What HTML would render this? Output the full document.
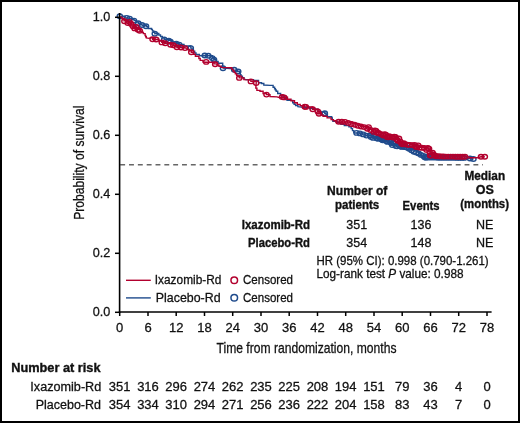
<!DOCTYPE html>
<html><head><meta charset="utf-8"><style>
html,body{margin:0;padding:0;background:#fff;}
body{width:520px;height:423px;overflow:hidden;}
svg{display:block;will-change:transform;}
text{stroke:#111;stroke-width:0.28px;}
text[font-weight=bold],g[font-weight=bold] text{stroke-width:0.35px;}
</style></head><body>
<svg width="520" height="423" viewBox="0 0 520 423" font-family='"Liberation Sans", sans-serif'>
<rect x="0" y="0" width="520" height="423" fill="#fff"/>
<line x1="120.2" y1="164.8" x2="483" y2="164.8" stroke="#666" stroke-width="1.5" stroke-dasharray="4.9 3.93"/>
<g fill="none" stroke="#1F4B8C" stroke-width="1.4" stroke-linejoin="miter"><polyline points="119.7,17.3 122.8,16.2 125.1,16.2 125.1,18.1 127.3,18.0 129.5,18.4 131.9,18.4 131.9,19.3 134.1,19.3 134.1,20.6 136.3,20.6 136.3,22.0 138.3,22.0 138.3,23.3 140.1,23.3 140.1,24.2 142.0,24.2 142.0,25.2 144.4,25.7 146.5,25.7 146.5,26.6 148.2,26.6 148.2,28.5 151.5,28.5 151.5,29.4 152.4,29.4 152.4,30.9 153.6,30.9 153.6,32.3 154.8,32.3 154.8,33.7 157.2,33.5 158.8,33.5 158.8,35.0 160.5,35.0 160.5,36.5 162.3,36.5 162.3,37.9 164.2,37.9 164.2,39.3 168.8,39.3 168.8,40.4 172.0,40.4 172.0,42.0 176.3,42.0 176.3,43.6 179.2,43.6 179.2,44.4 184.0,44.4 184.0,46.0 190.8,46.0 190.8,48.1 192.1,48.1 192.1,49.7 193.4,49.7 193.4,51.3 194.7,51.3 194.7,52.9 196.0,52.9 196.0,54.5 199.4,54.5 199.4,55.6 201.2,55.8 204.8,55.5 208.3,55.8 212.3,55.8 212.3,58.1 214.0,58.1 214.0,59.8 216.1,59.8 216.1,61.5 218.1,61.5 218.1,63.3 222.7,63.3 222.7,65.6 223.2,68.2 230.0,68.5 233.0,68.5 233.0,70.1 237.6,70.1 237.6,71.5 239.6,71.5 239.6,73.5 240.3,73.5 240.3,74.8 241.0,74.8 241.0,76.2 242.4,76.2 242.4,77.6 243.9,77.6 243.9,79.0 245.8,79.6 253.5,79.6 253.5,80.4 258.5,80.4 258.5,82.7 261.5,82.7 261.5,83.5 263.8,83.5 263.8,85.0 270.0,85.4 273.1,85.4 273.1,87.3 274.6,87.3 274.6,88.8 275.4,88.8 275.4,90.0 276.2,90.0 276.2,91.2 277.7,91.2 277.7,93.5 280.6,93.5 280.6,95.2 283.1,95.2 283.1,96.9 285.1,96.9 285.1,98.7 287.0,98.7 287.0,100.4 292.7,100.4 292.7,102.7 294.1,102.7 294.1,104.2 295.6,104.2 295.6,105.6 297.9,105.6 297.9,106.7 301.4,107.0 305.0,107.3 309.6,107.3 309.6,108.5 314.2,108.5 314.2,109.2 318.1,109.2 318.1,111.5 321.2,111.5 321.2,113.5 323.5,112.0 324.8,112.0 324.8,113.3 326.1,113.3 326.1,114.8 327.4,114.8 327.4,116.4 328.8,116.7 331.7,116.7 331.7,117.9 332.3,117.9 332.3,119.6 332.9,119.6 332.9,121.3 337.4,121.3 337.4,122.8 340.9,122.8 340.9,124.2 344.3,124.2 344.3,125.5 348.9,125.5 348.9,126.7 351.2,126.7 351.2,128.6 352.5,128.6 352.5,130.6 353.8,130.6 353.8,132.6 355.0,133.0 361.0,133.0 361.0,134.0 365.0,134.0 365.0,135.6 373.0,135.6 373.0,137.5 377.0,137.5 377.0,138.8 381.0,138.8 381.0,140.0 386.0,140.0 386.0,141.5 388.5,141.5 388.5,143.0 391.0,143.0 391.0,144.5 400.0,144.5 400.0,146.5 407.0,146.5 407.0,148.0 410.0,148.0 410.0,149.5 416.0,149.5 416.0,151.5 418.0,151.5 418.0,152.5 419.5,152.5 419.5,154.0 421.0,154.0 421.0,155.5 422.0,155.5 422.0,156.9 423.0,156.9 423.0,158.3 466.0,158.6 470.0,158.5 473.4,159.0"/></g>
<g fill="none" stroke="#1F4B8C" stroke-width="1.4"><ellipse cx="356.6" cy="132.9" rx="2.65" ry="2.25"/>
<ellipse cx="359.9" cy="133.4" rx="2.65" ry="2.25"/>
<ellipse cx="363.2" cy="134.4" rx="2.65" ry="2.25"/>
<ellipse cx="366.5" cy="135.6" rx="2.65" ry="2.25"/>
<ellipse cx="369.8" cy="135.5" rx="2.65" ry="2.25"/>
<ellipse cx="371.0" cy="137.0" rx="2.65" ry="2.25"/>
<ellipse cx="374.3" cy="135.5" rx="2.65" ry="2.25"/>
<ellipse cx="373.1" cy="137.9" rx="2.65" ry="2.25"/>
<ellipse cx="375.5" cy="136.4" rx="2.65" ry="2.25"/>
<ellipse cx="376.7" cy="138.3" rx="2.65" ry="2.25"/>
<ellipse cx="379.1" cy="137.2" rx="2.65" ry="2.25"/>
<ellipse cx="377.9" cy="138.7" rx="2.65" ry="2.25"/>
<ellipse cx="380.3" cy="138.0" rx="2.65" ry="2.25"/>
<ellipse cx="381.5" cy="139.5" rx="2.65" ry="2.25"/>
<ellipse cx="383.9" cy="138.8" rx="2.65" ry="2.25"/>
<ellipse cx="382.7" cy="140.3" rx="2.65" ry="2.25"/>
<ellipse cx="385.1" cy="139.5" rx="2.65" ry="2.25"/>
<ellipse cx="386.3" cy="141.1" rx="2.65" ry="2.25"/>
<ellipse cx="388.7" cy="140.2" rx="2.65" ry="2.25"/>
<ellipse cx="387.5" cy="141.9" rx="2.65" ry="2.25"/>
<ellipse cx="389.9" cy="141.4" rx="2.65" ry="2.25"/>
<ellipse cx="391.1" cy="143.1" rx="2.65" ry="2.25"/>
<ellipse cx="393.5" cy="142.9" rx="2.65" ry="2.25"/>
<ellipse cx="392.3" cy="145.1" rx="2.65" ry="2.25"/>
<ellipse cx="394.7" cy="143.7" rx="2.65" ry="2.25"/>
<ellipse cx="395.9" cy="146.1" rx="2.65" ry="2.25"/>
<ellipse cx="398.3" cy="144.4" rx="2.65" ry="2.25"/>
<ellipse cx="397.1" cy="146.3" rx="2.65" ry="2.25"/>
<ellipse cx="399.5" cy="145.1" rx="2.65" ry="2.25"/>
<ellipse cx="400.7" cy="146.6" rx="2.65" ry="2.25"/>
<ellipse cx="403.1" cy="145.9" rx="2.65" ry="2.25"/>
<ellipse cx="401.9" cy="146.9" rx="2.65" ry="2.25"/>
<ellipse cx="404.3" cy="147.0" rx="2.65" ry="2.25"/>
<ellipse cx="406.7" cy="147.5" rx="2.65" ry="2.25"/>
<ellipse cx="409.1" cy="148.8" rx="2.65" ry="2.25"/>
<ellipse cx="411.5" cy="150.3" rx="2.65" ry="2.25"/>
<ellipse cx="413.9" cy="151.8" rx="2.65" ry="2.25"/>
<ellipse cx="416.3" cy="152.5" rx="2.65" ry="2.25"/>
<ellipse cx="418.7" cy="153.5" rx="2.65" ry="2.25"/>
<ellipse cx="421.1" cy="154.9" rx="2.65" ry="2.25"/>
<ellipse cx="423.5" cy="155.9" rx="2.65" ry="2.25"/>
<ellipse cx="424.7" cy="157.2" rx="2.65" ry="2.25"/>
<ellipse cx="427.1" cy="156.7" rx="2.65" ry="2.25"/>
<ellipse cx="425.9" cy="157.7" rx="2.65" ry="2.25"/>
<ellipse cx="428.3" cy="157.5" rx="2.65" ry="2.25"/>
<ellipse cx="430.7" cy="157.6" rx="2.65" ry="2.25"/>
<ellipse cx="433.1" cy="157.6" rx="2.65" ry="2.25"/>
<ellipse cx="435.5" cy="157.6" rx="2.65" ry="2.25"/>
<ellipse cx="437.9" cy="157.7" rx="2.65" ry="2.25"/>
<ellipse cx="440.3" cy="157.7" rx="2.65" ry="2.25"/>
<ellipse cx="442.7" cy="157.7" rx="2.65" ry="2.25"/>
<ellipse cx="445.1" cy="157.8" rx="2.65" ry="2.25"/>
<ellipse cx="447.5" cy="157.8" rx="2.65" ry="2.25"/>
<ellipse cx="449.9" cy="157.8" rx="2.65" ry="2.25"/>
<ellipse cx="452.3" cy="157.8" rx="2.65" ry="2.25"/>
<ellipse cx="454.7" cy="157.8" rx="2.65" ry="2.25"/>
<ellipse cx="457.1" cy="157.9" rx="2.65" ry="2.25"/>
<ellipse cx="459.5" cy="157.9" rx="2.65" ry="2.25"/>
<ellipse cx="461.9" cy="157.9" rx="2.65" ry="2.25"/>
<ellipse cx="464.3" cy="157.9" rx="2.65" ry="2.25"/></g>
<g fill="none" stroke="#1F4B8C" stroke-width="1.4"><ellipse cx="119.8" cy="16.2" rx="2.65" ry="2.25"/>
<ellipse cx="126.8" cy="17.9" rx="2.65" ry="2.25"/>
<ellipse cx="129.6" cy="18.6" rx="2.65" ry="2.25"/>
<ellipse cx="134.0" cy="20.6" rx="2.65" ry="2.25"/>
<ellipse cx="138.3" cy="23.2" rx="2.65" ry="2.25"/>
<ellipse cx="142.0" cy="25.0" rx="2.65" ry="2.25"/>
<ellipse cx="146.0" cy="26.2" rx="2.65" ry="2.25"/>
<ellipse cx="154.8" cy="33.7" rx="2.65" ry="2.25"/>
<ellipse cx="164.2" cy="39.5" rx="2.65" ry="2.25"/>
<ellipse cx="168.8" cy="40.6" rx="2.65" ry="2.25"/>
<ellipse cx="170.5" cy="41.8" rx="2.65" ry="2.25"/>
<ellipse cx="176.3" cy="43.8" rx="2.65" ry="2.25"/>
<ellipse cx="179.2" cy="44.6" rx="2.65" ry="2.25"/>
<ellipse cx="190.8" cy="48.1" rx="2.65" ry="2.25"/>
<ellipse cx="204.8" cy="55.5" rx="2.65" ry="2.25"/>
<ellipse cx="208.3" cy="55.8" rx="2.65" ry="2.25"/>
<ellipse cx="212.3" cy="58.1" rx="2.65" ry="2.25"/>
<ellipse cx="214.0" cy="59.8" rx="2.65" ry="2.25"/>
<ellipse cx="223.0" cy="68.3" rx="2.65" ry="2.25"/>
<ellipse cx="234.2" cy="69.7" rx="2.65" ry="2.25"/>
<ellipse cx="238.2" cy="71.5" rx="2.65" ry="2.25"/>
<ellipse cx="324.8" cy="113.3" rx="2.65" ry="2.25"/>
<ellipse cx="470.0" cy="158.5" rx="2.65" ry="2.25"/>
<ellipse cx="473.4" cy="159.0" rx="2.65" ry="2.25"/></g>
<g fill="none" stroke="#B2002E" stroke-width="1.4" stroke-linejoin="miter"><polyline points="119.7,17.3 122.0,17.3 122.0,18.5 124.0,18.5 124.0,20.8 126.1,20.8 126.1,21.6 128.4,21.6 128.4,22.9 131.3,22.9 131.3,25.1 134.1,25.1 134.1,27.4 137.0,27.4 137.0,29.5 140.1,29.5 140.1,31.3 142.5,31.3 142.5,32.5 143.4,32.5 143.4,33.6 145.1,33.6 145.1,35.5 145.7,35.5 145.7,36.8 146.3,36.8 146.3,38.0 149.1,38.4 151.5,37.5 150.0,37.8 152.6,37.8 152.6,39.3 156.1,39.5 158.9,39.5 158.9,41.0 161.8,41.0 161.8,42.4 165.3,42.4 165.3,43.3 170.5,43.3 170.5,44.7 173.4,45.3 176.9,45.3 176.9,47.3 181.0,47.5 185.0,47.5 185.0,48.1 187.1,48.1 187.1,49.5 189.2,49.5 189.2,50.8 191.3,50.8 191.3,52.2 193.4,52.2 193.4,54.2 195.4,54.2 195.4,56.2 198.9,56.2 198.9,58.5 200.2,58.5 200.2,60.4 203.0,60.4 203.0,62.0 206.0,62.2 207.1,62.2 214.0,62.2 214.0,63.9 216.9,63.9 216.9,65.0 218.9,65.0 218.9,66.2 221.0,66.2 221.0,67.4 230.7,67.8 231.8,67.8 231.8,69.4 233.0,69.4 233.0,71.0 234.2,71.0 234.2,72.4 235.3,72.4 235.3,73.8 236.6,73.8 236.6,75.2 238.0,75.2 238.0,76.5 239.3,76.5 239.3,77.9 243.9,77.9 243.9,79.6 248.5,79.9 250.9,79.9 250.9,81.4 256.2,81.4 256.2,83.1 255.8,88.1 256.9,88.1 256.9,90.4 260.0,90.4 260.0,91.2 263.1,91.2 263.1,93.5 266.5,93.5 266.5,94.6 270.0,94.6 270.0,96.5 276.9,96.9 279.2,97.5 282.9,97.2 287.5,97.2 287.5,99.2 291.0,99.2 291.0,100.7 294.5,100.7 294.5,102.7 297.3,102.7 297.3,104.4 300.2,104.4 300.2,105.6 304.3,105.6 304.3,106.7 305.7,106.9 312.7,106.9 312.7,109.2 317.8,109.2 317.8,111.5 319.0,111.5 319.0,113.8 321.0,113.8 321.0,115.0 323.0,115.0 323.0,116.2 327.1,116.2 327.1,117.9 331.1,117.9 331.1,119.6 333.4,119.6 333.4,120.8 336.0,120.8 336.0,122.0 345.0,122.0 352.0,122.0 352.0,123.6 358.0,123.6 358.0,125.4 362.0,125.4 362.0,126.3 366.0,126.3 366.0,127.8 370.0,127.8 370.0,129.4 375.0,129.4 375.0,131.2 378.0,131.2 378.0,132.4 381.0,132.4 381.0,133.6 385.0,133.6 385.0,135.0 390.0,135.0 390.0,136.2 395.0,136.2 395.0,137.5 396.5,137.5 396.5,139.0 398.0,139.0 398.0,140.5 400.0,140.5 400.0,142.3 405.0,142.3 405.0,143.6 410.0,143.6 410.0,144.8 417.0,144.8 417.0,145.8 419.0,145.8 419.0,147.2 425.0,147.2 425.0,148.0 429.0,148.0 429.0,150.0 430.0,150.0 430.0,151.5 431.0,151.5 431.0,153.0 433.0,153.0 433.0,154.8 435.0,154.8 435.0,156.7 466.0,156.9 469.0,156.9 469.0,157.7 477.6,157.7 481.0,156.8 484.8,156.8"/></g>
<g fill="none" stroke="#B2002E" stroke-width="1.4"><ellipse cx="338.6" cy="121.8" rx="2.65" ry="2.25"/>
<ellipse cx="341.8" cy="121.7" rx="2.65" ry="2.25"/>
<ellipse cx="345.0" cy="121.9" rx="2.65" ry="2.25"/>
<ellipse cx="348.2" cy="122.9" rx="2.65" ry="2.25"/>
<ellipse cx="351.4" cy="124.0" rx="2.65" ry="2.25"/>
<ellipse cx="354.6" cy="124.8" rx="2.65" ry="2.25"/>
<ellipse cx="357.8" cy="125.7" rx="2.65" ry="2.25"/>
<ellipse cx="361.0" cy="126.5" rx="2.65" ry="2.25"/>
<ellipse cx="364.2" cy="127.1" rx="2.65" ry="2.25"/>
<ellipse cx="368.6" cy="127.1" rx="2.65" ry="2.25"/>
<ellipse cx="367.4" cy="128.7" rx="2.65" ry="2.25"/>
<ellipse cx="370.6" cy="130.0" rx="2.65" ry="2.25"/>
<ellipse cx="375.0" cy="130.5" rx="2.65" ry="2.25"/>
<ellipse cx="373.8" cy="131.9" rx="2.65" ry="2.25"/>
<ellipse cx="376.2" cy="131.0" rx="2.65" ry="2.25"/>
<ellipse cx="377.4" cy="132.9" rx="2.65" ry="2.25"/>
<ellipse cx="378.6" cy="133.0" rx="2.65" ry="2.25"/>
<ellipse cx="381.0" cy="134.2" rx="2.65" ry="2.25"/>
<ellipse cx="384.6" cy="134.3" rx="2.65" ry="2.25"/>
<ellipse cx="383.4" cy="135.5" rx="2.65" ry="2.25"/>
<ellipse cx="385.8" cy="134.7" rx="2.65" ry="2.25"/>
<ellipse cx="387.0" cy="137.0" rx="2.65" ry="2.25"/>
<ellipse cx="389.4" cy="136.3" rx="2.65" ry="2.25"/>
<ellipse cx="388.2" cy="137.2" rx="2.65" ry="2.25"/>
<ellipse cx="390.6" cy="137.0" rx="2.65" ry="2.25"/>
<ellipse cx="394.2" cy="136.7" rx="2.65" ry="2.25"/>
<ellipse cx="393.0" cy="137.6" rx="2.65" ry="2.25"/>
<ellipse cx="395.4" cy="136.9" rx="2.65" ry="2.25"/>
<ellipse cx="396.6" cy="139.2" rx="2.65" ry="2.25"/>
<ellipse cx="399.0" cy="138.5" rx="2.65" ry="2.25"/>
<ellipse cx="397.8" cy="140.7" rx="2.65" ry="2.25"/>
<ellipse cx="400.2" cy="141.5" rx="2.65" ry="2.25"/>
<ellipse cx="401.4" cy="143.6" rx="2.65" ry="2.25"/>
<ellipse cx="403.8" cy="143.3" rx="2.65" ry="2.25"/>
<ellipse cx="402.6" cy="144.3" rx="2.65" ry="2.25"/>
<ellipse cx="405.0" cy="144.3" rx="2.65" ry="2.25"/>
<ellipse cx="407.4" cy="144.8" rx="2.65" ry="2.25"/>
<ellipse cx="409.8" cy="144.9" rx="2.65" ry="2.25"/>
<ellipse cx="412.2" cy="145.1" rx="2.65" ry="2.25"/>
<ellipse cx="414.6" cy="145.0" rx="2.65" ry="2.25"/>
<ellipse cx="415.8" cy="146.7" rx="2.65" ry="2.25"/>
<ellipse cx="418.2" cy="145.4" rx="2.65" ry="2.25"/>
<ellipse cx="417.0" cy="147.0" rx="2.65" ry="2.25"/>
<ellipse cx="419.4" cy="147.6" rx="2.65" ry="2.25"/>
<ellipse cx="421.8" cy="147.8" rx="2.65" ry="2.25"/>
<ellipse cx="424.2" cy="148.0" rx="2.65" ry="2.25"/>
<ellipse cx="427.8" cy="148.0" rx="2.65" ry="2.25"/>
<ellipse cx="426.6" cy="149.9" rx="2.65" ry="2.25"/>
<ellipse cx="429.0" cy="148.6" rx="2.65" ry="2.25"/>
<ellipse cx="430.2" cy="155.5" rx="2.65" ry="2.25"/>
<ellipse cx="429.6" cy="152.1" rx="2.65" ry="2.25"/>
<ellipse cx="432.6" cy="152.7" rx="2.65" ry="2.25"/>
<ellipse cx="431.4" cy="155.6" rx="2.65" ry="2.25"/>
<ellipse cx="433.8" cy="154.6" rx="2.65" ry="2.25"/>
<ellipse cx="435.0" cy="155.7" rx="2.65" ry="2.25"/>
<ellipse cx="436.2" cy="156.2" rx="2.65" ry="2.25"/>
<ellipse cx="438.6" cy="156.3" rx="2.65" ry="2.25"/>
<ellipse cx="441.0" cy="156.4" rx="2.65" ry="2.25"/>
<ellipse cx="443.4" cy="156.5" rx="2.65" ry="2.25"/>
<ellipse cx="445.8" cy="156.6" rx="2.65" ry="2.25"/>
<ellipse cx="448.2" cy="156.6" rx="2.65" ry="2.25"/>
<ellipse cx="450.6" cy="156.6" rx="2.65" ry="2.25"/>
<ellipse cx="453.0" cy="156.6" rx="2.65" ry="2.25"/>
<ellipse cx="455.4" cy="156.7" rx="2.65" ry="2.25"/>
<ellipse cx="457.8" cy="156.7" rx="2.65" ry="2.25"/>
<ellipse cx="460.2" cy="156.7" rx="2.65" ry="2.25"/>
<ellipse cx="462.6" cy="156.7" rx="2.65" ry="2.25"/>
<ellipse cx="465.0" cy="156.7" rx="2.65" ry="2.25"/></g>
<g fill="none" stroke="#B2002E" stroke-width="1.4"><ellipse cx="124.4" cy="21.2" rx="2.65" ry="2.25"/>
<ellipse cx="129.5" cy="21.9" rx="2.65" ry="2.25"/>
<ellipse cx="127.8" cy="23.1" rx="2.65" ry="2.25"/>
<ellipse cx="131.2" cy="23.9" rx="2.65" ry="2.25"/>
<ellipse cx="132.9" cy="26.2" rx="2.65" ry="2.25"/>
<ellipse cx="136.3" cy="26.9" rx="2.65" ry="2.25"/>
<ellipse cx="134.6" cy="28.4" rx="2.65" ry="2.25"/>
<ellipse cx="138.0" cy="29.7" rx="2.65" ry="2.25"/>
<ellipse cx="139.7" cy="30.7" rx="2.65" ry="2.25"/>
<ellipse cx="152.6" cy="39.3" rx="2.65" ry="2.25"/>
<ellipse cx="156.1" cy="39.5" rx="2.65" ry="2.25"/>
<ellipse cx="161.8" cy="42.4" rx="2.65" ry="2.25"/>
<ellipse cx="165.3" cy="43.3" rx="2.65" ry="2.25"/>
<ellipse cx="170.5" cy="44.7" rx="2.65" ry="2.25"/>
<ellipse cx="173.4" cy="45.3" rx="2.65" ry="2.25"/>
<ellipse cx="176.9" cy="47.3" rx="2.65" ry="2.25"/>
<ellipse cx="181.0" cy="47.5" rx="2.65" ry="2.25"/>
<ellipse cx="185.0" cy="48.1" rx="2.65" ry="2.25"/>
<ellipse cx="191.3" cy="52.2" rx="2.65" ry="2.25"/>
<ellipse cx="206.2" cy="61.9" rx="2.65" ry="2.25"/>
<ellipse cx="215.2" cy="64.2" rx="2.65" ry="2.25"/>
<ellipse cx="239.3" cy="77.9" rx="2.65" ry="2.25"/>
<ellipse cx="250.9" cy="81.4" rx="2.65" ry="2.25"/>
<ellipse cx="256.2" cy="83.1" rx="2.65" ry="2.25"/>
<ellipse cx="266.5" cy="94.6" rx="2.65" ry="2.25"/>
<ellipse cx="282.2" cy="97.0" rx="2.65" ry="2.25"/>
<ellipse cx="284.2" cy="97.4" rx="2.65" ry="2.25"/>
<ellipse cx="304.8" cy="106.8" rx="2.65" ry="2.25"/>
<ellipse cx="305.9" cy="106.9" rx="2.65" ry="2.25"/>
<ellipse cx="312.7" cy="109.2" rx="2.65" ry="2.25"/>
<ellipse cx="317.8" cy="111.5" rx="2.65" ry="2.25"/>
<ellipse cx="319.0" cy="113.8" rx="2.65" ry="2.25"/>
<ellipse cx="481.0" cy="156.8" rx="2.65" ry="2.25"/>
<ellipse cx="484.8" cy="156.8" rx="2.65" ry="2.25"/></g>
<g stroke="#000" fill="none">
<line x1="119.6" y1="13" x2="119.6" y2="313" stroke-width="1.6"/>
<line x1="118.8" y1="312" x2="491.6" y2="312" stroke-width="1.7"/>
<line x1="115" y1="312.3" x2="119.6" y2="312.3" stroke-width="1.5"/>
<line x1="115" y1="253.3" x2="119.6" y2="253.3" stroke-width="1.5"/>
<line x1="115" y1="194.3" x2="119.6" y2="194.3" stroke-width="1.5"/>
<line x1="115" y1="135.3" x2="119.6" y2="135.3" stroke-width="1.5"/>
<line x1="115" y1="76.3" x2="119.6" y2="76.3" stroke-width="1.5"/>
<line x1="115" y1="17.3" x2="119.6" y2="17.3" stroke-width="1.5"/>
<line x1="119.7" y1="312" x2="119.7" y2="316" stroke-width="1.5"/>
<line x1="148.0" y1="312" x2="148.0" y2="316" stroke-width="1.5"/>
<line x1="176.2" y1="312" x2="176.2" y2="316" stroke-width="1.5"/>
<line x1="204.5" y1="312" x2="204.5" y2="316" stroke-width="1.5"/>
<line x1="232.7" y1="312" x2="232.7" y2="316" stroke-width="1.5"/>
<line x1="261.0" y1="312" x2="261.0" y2="316" stroke-width="1.5"/>
<line x1="289.2" y1="312" x2="289.2" y2="316" stroke-width="1.5"/>
<line x1="317.5" y1="312" x2="317.5" y2="316" stroke-width="1.5"/>
<line x1="345.7" y1="312" x2="345.7" y2="316" stroke-width="1.5"/>
<line x1="374.0" y1="312" x2="374.0" y2="316" stroke-width="1.5"/>
<line x1="402.2" y1="312" x2="402.2" y2="316" stroke-width="1.5"/>
<line x1="430.5" y1="312" x2="430.5" y2="316" stroke-width="1.5"/>
<line x1="458.7" y1="312" x2="458.7" y2="316" stroke-width="1.5"/>
<line x1="487.0" y1="312" x2="487.0" y2="316" stroke-width="1.5"/>
</g>
<g font-size="13.2" fill="#111" text-anchor="end">
<text x="110.4" y="316.4" textLength="17.6" lengthAdjust="spacingAndGlyphs">0.0</text>
<text x="110.4" y="257.4" textLength="17.6" lengthAdjust="spacingAndGlyphs">0.2</text>
<text x="110.4" y="198.4" textLength="17.6" lengthAdjust="spacingAndGlyphs">0.4</text>
<text x="110.4" y="139.4" textLength="17.6" lengthAdjust="spacingAndGlyphs">0.6</text>
<text x="110.4" y="80.4" textLength="17.6" lengthAdjust="spacingAndGlyphs">0.8</text>
<text x="110.4" y="21.4" textLength="17.6" lengthAdjust="spacingAndGlyphs">1.0</text>
</g>
<g font-size="13" fill="#111" text-anchor="middle">
<text x="119.7" y="332.2">0</text>
<text x="148.0" y="332.2">6</text>
<text x="176.2" y="332.2">12</text>
<text x="204.5" y="332.2">18</text>
<text x="232.7" y="332.2">24</text>
<text x="261.0" y="332.2">30</text>
<text x="289.2" y="332.2">36</text>
<text x="317.5" y="332.2">42</text>
<text x="345.7" y="332.2">48</text>
<text x="374.0" y="332.2">54</text>
<text x="402.2" y="332.2">60</text>
<text x="430.5" y="332.2">66</text>
<text x="458.7" y="332.2">72</text>
<text x="487.0" y="332.2">78</text>
</g>
<text x="216.5" y="352.9" font-size="15" fill="#111" textLength="180" lengthAdjust="spacingAndGlyphs">Time from randomization, months</text>
<text transform="translate(83.7,219.8) rotate(-90)" x="0" y="0" font-size="14.6" fill="#111" textLength="114.2" lengthAdjust="spacingAndGlyphs">Probability of survival</text>
<line x1="126" y1="280.3" x2="150.8" y2="280.3" stroke="#B2002E" stroke-width="1.4"/>
<line x1="126" y1="297.9" x2="150.8" y2="297.9" stroke="#1F4B8C" stroke-width="1.4"/>
<circle cx="234.25" cy="280.25" r="3.3" fill="none" stroke="#B2002E" stroke-width="1.5"/>
<circle cx="234.25" cy="297.7" r="3.3" fill="none" stroke="#1F4B8C" stroke-width="1.5"/>
<g font-size="12.5" fill="#111">
<text x="154.8" y="284.2" textLength="66.6" lengthAdjust="spacingAndGlyphs">Ixazomib-Rd</text>
<text x="155.8" y="301.6" textLength="64.8" lengthAdjust="spacingAndGlyphs">Placebo-Rd</text>
<text x="243" y="284.2" textLength="50" lengthAdjust="spacingAndGlyphs">Censored</text>
<text x="243" y="301.6" textLength="50" lengthAdjust="spacingAndGlyphs">Censored</text>
</g>
<g font-size="12.5" fill="#111" font-weight="bold">
<text x="327.1" y="195" textLength="60.2" lengthAdjust="spacingAndGlyphs">Number of</text>
<text x="335" y="208.5" textLength="44.2" lengthAdjust="spacingAndGlyphs">patients</text>
<text x="402.6" y="209.7" textLength="37" lengthAdjust="spacingAndGlyphs">Events</text>
<text x="464.5" y="179.7" textLength="40.6" lengthAdjust="spacingAndGlyphs">Median</text>
<text x="484.8" y="193.8" text-anchor="middle">OS</text>
<text x="460.3" y="207.6" textLength="48.7" lengthAdjust="spacingAndGlyphs">(months)</text>
<text x="310" y="228.8" text-anchor="end" textLength="68.3" lengthAdjust="spacingAndGlyphs">Ixazomib-Rd</text>
<text x="310" y="246.9" text-anchor="end" textLength="62" lengthAdjust="spacingAndGlyphs">Placebo-Rd</text>
</g>
<g font-size="12.5" fill="#111" text-anchor="middle">
<text x="356.7" y="228.8">351</text>
<text x="421" y="228.8">136</text>
<text x="484.7" y="228.8">NE</text>
<text x="356.7" y="246.9">354</text>
<text x="421" y="246.9">148</text>
<text x="484.7" y="246.9">NE</text>
</g>
<g font-size="11.9" fill="#111">
<text x="316.5" y="264.8" textLength="172.2" lengthAdjust="spacingAndGlyphs">HR (95% CI): 0.998 (0.790-1.261)</text>
<text x="316.5" y="278.3" textLength="147" lengthAdjust="spacingAndGlyphs">Log-rank test <tspan font-style="italic">P</tspan> value: 0.988</text>
</g>
<g font-size="12.5" fill="#111">
<text x="11.2" y="372" font-weight="bold" textLength="89.3" lengthAdjust="spacingAndGlyphs">Number at risk</text>
<text x="101.3" y="390.7" text-anchor="end" textLength="71" lengthAdjust="spacingAndGlyphs">Ixazomib-Rd</text>
<text x="101" y="409.2" text-anchor="end" textLength="65.3" lengthAdjust="spacingAndGlyphs">Placebo-Rd</text>
</g>
<g font-size="13" fill="#111" text-anchor="middle">
<text x="119.7" y="390.7">351</text>
<text x="119.7" y="409.1">354</text>
<text x="148.0" y="390.7">316</text>
<text x="148.0" y="409.1">334</text>
<text x="176.2" y="390.7">296</text>
<text x="176.2" y="409.1">310</text>
<text x="204.5" y="390.7">274</text>
<text x="204.5" y="409.1">294</text>
<text x="232.7" y="390.7">262</text>
<text x="232.7" y="409.1">271</text>
<text x="261.0" y="390.7">235</text>
<text x="261.0" y="409.1">256</text>
<text x="289.2" y="390.7">225</text>
<text x="289.2" y="409.1">236</text>
<text x="317.5" y="390.7">208</text>
<text x="317.5" y="409.1">222</text>
<text x="345.7" y="390.7">194</text>
<text x="345.7" y="409.1">204</text>
<text x="374.0" y="390.7">151</text>
<text x="374.0" y="409.1">158</text>
<text x="402.2" y="390.7">79</text>
<text x="402.2" y="409.1">83</text>
<text x="430.5" y="390.7">36</text>
<text x="430.5" y="409.1">43</text>
<text x="458.7" y="390.7">4</text>
<text x="458.7" y="409.1">7</text>
<text x="487.0" y="390.7">0</text>
<text x="487.0" y="409.1">0</text>
</g>
<rect x="1" y="1" width="518" height="421" fill="none" stroke="#000" stroke-width="2"/>
</svg>
</body></html>
